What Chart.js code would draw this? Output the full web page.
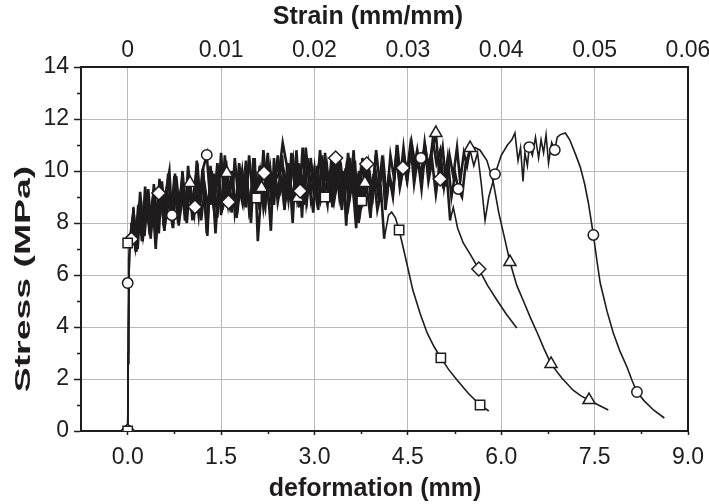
<!DOCTYPE html>
<html>
<head>
<meta charset="utf-8">
<script src="https://cdn.jsdelivr.net/npm/chart.js@4.4.0/dist/chart.umd.min.js"></script>
<style>
    html, body { margin: 0; padding: 0; background: #fff; }
    #wrap { width: 709px; height: 504px; }
</style>
</head>
<body>
<div id="wrap"><canvas id="chart"></canvas></div>
<script>
// axis ticks and titles
const deformationTicks = [0, 1.5, 3, 4.5, 6, 7.5, 9];
const deformationMinor = [0.75, 2.25, 3.75, 5.25, 6.75, 8.25];
const strainTicks = [0, 0.01, 0.02, 0.03, 0.04, 0.05, 0.06];
const stressTicks = [0, 2, 4, 6, 8, 10, 12, 14];
const stressMinor = [1, 3, 5, 7, 9, 11, 13];
const deformationTitle = 'deformation (mm)';
const strainTitle = 'Strain (mm/mm)';
const stressTitle = 'Stress (MPa)';

// square specimen
const squareDef = [
    0, 0.01, 0.02, 0.04, 0.08, 0.13, 0.19, 0.24, 0.3, 0.36,
    0.41, 0.47, 0.53, 0.58, 0.64, 0.7, 0.75, 0.81, 0.87, 0.92,
    0.98, 1.04, 1.1, 1.15, 1.21, 1.27, 1.32, 1.38, 1.44, 1.5,
    1.55, 1.61, 1.67, 1.72, 1.78, 1.84, 1.9, 1.95, 2.01, 2.07,
    2.12, 2.18, 2.24, 2.3, 2.35, 2.41, 2.47, 2.52, 2.58, 2.64,
    2.7, 2.75, 2.81, 2.87, 2.92, 2.98, 3.04, 3.1, 3.15, 3.21,
    3.27, 3.32, 3.38, 3.44, 3.5, 3.55, 3.61, 3.67, 3.72, 3.78,
    3.84, 3.9, 3.95, 4.01, 4.07, 4.12, 4.19, 4.24, 4.3, 4.36,
    4.45, 4.58, 4.7, 4.81, 4.92, 5.03, 5.16, 5.29, 5.47, 5.66, 5.8,
];
const squareStress = [
    0, 2.6, 5.9, 7.2, 8.1, 6.9, 8.8, 7.3, 9.0, 7.6,
    8.9, 7.8, 9.4, 7.9, 9.1, 8.2, 9.8, 8.0, 9.3, 8.4,
    9.9, 8.1, 9.6, 8.5, 10.1, 7.6, 9.4, 8.6, 10.3, 8.3,
    9.7, 8.7, 10.0, 8.4, 9.5, 8.8, 10.4, 8.5, 9.3, 8.9,
    10.2, 8.6, 9.8, 7.7, 10.5, 8.8, 9.6, 8.5, 10.3, 8.9,
    9.9, 8.6, 10.9, 8.8, 9.7, 8.4, 10.2, 8.9, 9.5, 8.7,
    10.4, 8.9, 9.8, 8.5, 10.1, 8.7, 9.6, 7.8, 10.0, 8.8,
    9.4, 8.2, 9.9, 8.5, 9.2, 7.4, 8.3, 8.42, 8.2, 7.73,
    6.8, 5.42, 4.5, 3.77, 3.25, 2.81, 2.35, 1.96, 1.45, 1.0, 0.77,
];
const squareNoiseEnd = 4.12;
const squareMarkDef = [0, 0, 2.07, 3.17, 3.76, 4.36, 5.03, 5.66];
const squareMarkStress = [0, 7.23, 8.96, 9.0, 8.85, 7.73, 2.81, 1.0];

// diamond specimen
const diamondDef = [
    0, 0.01, 0.03, 0.09, 0.14, 0.2, 0.25, 0.31, 0.37, 0.42,
    0.48, 0.54, 0.59, 0.65, 0.71, 0.76, 0.82, 0.88, 0.93, 0.99,
    1.05, 1.11, 1.16, 1.22, 1.28, 1.33, 1.39, 1.45, 1.51, 1.56,
    1.62, 1.68, 1.73, 1.79, 1.85, 1.91, 1.96, 2.02, 2.08, 2.13,
    2.19, 2.25, 2.31, 2.36, 2.42, 2.48, 2.53, 2.59, 2.65, 2.71,
    2.76, 2.82, 2.88, 2.94, 2.99, 3.05, 3.11, 3.17, 3.22, 3.28,
    3.34, 3.4, 3.45, 3.51, 3.57, 3.63, 3.68, 3.74, 3.8, 3.86,
    3.91, 3.97, 4.03, 4.09, 4.14, 4.2, 4.26, 4.32, 4.37, 4.43,
    4.49, 4.55, 4.6, 4.66, 4.72, 4.78, 4.83, 4.89, 4.95, 5.01,
    5.06, 5.12, 5.18, 5.23, 5.3, 5.39, 5.5, 5.64, 5.78, 5.93, 6.08, 6.25,
];
const diamondStress = [
    0, 3.5, 7.4, 8.6, 6.9, 9.2, 7.6, 8.7, 7.4, 9.5,
    8.0, 9.2, 7.7, 9.9, 8.3, 9.4, 7.9, 10.0, 8.6, 9.3,
    8.2, 10.4, 8.7, 9.6, 7.5, 10.2, 8.8, 9.9, 8.4, 10.6,
    8.9, 9.7, 8.5, 10.3, 9.0, 9.9, 8.3, 10.5, 8.9, 10.0,
    9.1, 10.7, 8.7, 9.8, 9.2, 10.6, 8.8, 10.1, 8.0, 10.8,
    9.0, 9.8, 8.9, 10.5, 9.3, 10.0, 8.8, 10.7, 9.1, 10.2,
    9.4, 10.6, 8.9, 10.1, 9.2, 10.8, 8.1, 9.9, 9.0, 10.5,
    8.6, 10.2, 9.1, 10.6, 8.5, 9.8, 9.0, 10.7, 9.4, 10.3,
    9.6, 10.9, 9.5, 10.5, 9.3, 10.8, 9.6, 10.4, 9.1, 10.2,
    9.5, 10.0, 8.1, 8.6, 7.8, 7.23, 6.8, 6.23, 5.6, 5.04, 4.5, 3.96,
];
const diamondNoiseEnd = 5.2;
const diamondMarkDef = [0, 0.06, 0.5, 1.08, 1.62, 2.19, 2.77, 3.34, 3.84, 4.42, 5.02, 5.64];
const diamondMarkStress = [0, 7.38, 9.15, 8.62, 8.81, 9.92, 9.23, 10.5, 10.27, 10.12, 9.69, 6.23];

// triangle specimen
const triangleDef = [
    0, 0.01, 0.03, 0.05, 0.1, 0.16, 0.21, 0.27, 0.33, 0.38,
    0.44, 0.5, 0.55, 0.61, 0.67, 0.73, 0.78, 0.84, 0.9, 0.95,
    1.0, 1.07, 1.12, 1.18, 1.24, 1.29, 1.35, 1.41, 1.47, 1.52,
    1.58, 1.64, 1.7, 1.75, 1.81, 1.87, 1.92, 1.98, 2.04, 2.09,
    2.15, 2.21, 2.26, 2.32, 2.38, 2.43, 2.49, 2.55, 2.6, 2.66,
    2.72, 2.77, 2.83, 2.89, 2.94, 3.0, 3.06, 3.12, 3.17, 3.23,
    3.29, 3.34, 3.4, 3.46, 3.51, 3.57, 3.63, 3.69, 3.74, 3.8,
    3.86, 3.91, 3.97, 4.03, 4.09, 4.14, 4.2, 4.26, 4.31, 4.37,
    4.43, 4.48, 4.54, 4.6, 4.65, 4.71, 4.77, 4.82, 4.88, 4.95,
    5.0, 5.06, 5.12, 5.17, 5.23, 5.29, 5.34, 5.4, 5.45, 5.5,
    5.58, 5.66, 5.77, 5.87, 5.96, 6.06, 6.14, 6.25, 6.35, 6.47,
    6.58, 6.69, 6.8, 6.97, 7.15, 7.28, 7.41, 7.56, 7.72,
];
const triangleStress = [
    0, 4.0, 6.9, 7.35, 8.3, 7.0, 8.9, 7.5, 9.3, 7.8,
    8.8, 7.6, 9.6, 8.1, 9.0, 7.8, 9.8, 8.3, 9.2, 8.0,
    9.54, 8.4, 10.3, 8.1, 9.4, 8.6, 10.0, 7.6, 9.7, 8.5,
    10.4, 8.7, 9.3, 8.2, 10.1, 8.8, 9.6, 8.0, 10.5, 7.3,
    9.35, 8.6, 10.2, 8.9, 9.7, 9.9, 11.08, 10.3, 9.2, 10.4,
    8.96, 9.9, 8.7, 10.5, 9.0, 10.1, 8.5, 10.6, 9.2, 9.8,
    8.6, 10.4, 9.0, 10.0, 7.9, 10.5, 9.1, 9.7, 8.5, 9.54,
    10.3, 8.8, 10.1, 9.0, 10.4, 8.7, 9.9, 9.2, 10.6, 9.5,
    10.9, 9.8, 11.0, 10.1, 10.8, 9.7, 11.1, 10.2, 10.7, 11.46,
    10.0, 10.9, 9.4, 10.6, 9.8, 10.9, 9.6, 10.7, 10.2, 10.88,
    10.9, 10.8, 10.4, 9.6, 8.4, 7.35, 6.5, 5.6, 5.04, 4.35,
    3.77, 3.15, 2.58, 2.05, 1.58, 1.35, 1.19, 1.0, 0.81,
];
const triangleNoiseEnd = 5.5;
const triangleMarkDef = [0, 0.05, 1.0, 1.59, 2.15, 2.73, 3.81, 4.95, 5.5, 6.14, 6.8, 7.41];
const triangleMarkStress = [0, 7.35, 9.54, 9.92, 9.35, 8.96, 9.54, 11.46, 10.88, 6.5, 2.58, 1.19];

// circle specimen
const circleDef = [
    0, 0.005, 0.01, 0.02, 0.06, 0.12, 0.17, 0.23, 0.28, 0.34,
    0.4, 0.45, 0.51, 0.57, 0.62, 0.67, 0.71, 0.76, 0.81, 0.87,
    0.92, 0.97, 1.03, 1.08, 1.14, 1.2, 1.27, 1.33, 1.38, 1.44,
    1.5, 1.55, 1.61, 1.67, 1.72, 1.78, 1.84, 1.9, 1.95, 2.01,
    2.07, 2.12, 2.18, 2.24, 2.29, 2.35, 2.41, 2.46, 2.52, 2.58,
    2.63, 2.69, 2.75, 2.8, 2.86, 2.92, 2.97, 3.03, 3.09, 3.14,
    3.2, 3.26, 3.31, 3.37, 3.43, 3.48, 3.54, 3.6, 3.65, 3.71,
    3.77, 3.82, 3.88, 3.94, 3.99, 4.05, 4.11, 4.16, 4.22, 4.28,
    4.33, 4.39, 4.45, 4.5, 4.56, 4.62, 4.71, 4.78, 4.84, 4.9,
    4.96, 5.02, 5.08, 5.14, 5.2, 5.26, 5.31, 5.37, 5.43, 5.5,
    5.56, 5.62, 5.68, 5.74, 5.8, 5.9, 6.0, 6.1, 6.17, 6.22,
    6.27, 6.31, 6.35, 6.38, 6.42, 6.45, 6.5, 6.55, 6.6, 6.64,
    6.68, 6.72, 6.76, 6.81, 6.86, 6.9, 6.95, 7.03, 7.1, 7.2,
    7.27, 7.34, 7.4, 7.48, 7.54, 7.59, 7.7, 7.8, 7.91, 8.02,
    8.1, 8.18, 8.3, 8.45, 8.62,
];
const circleStress = [
    0, 3.0, 5.69, 6.6, 8.0, 7.1, 8.7, 7.3, 9.4, 7.9,
    8.9, 7.0, 9.7, 8.2, 9.3, 10.0, 8.3, 9.9, 8.5, 9.6,
    8.1, 10.2, 8.6, 9.5, 8.3, 10.0, 10.62, 8.7, 9.9, 8.2,
    10.7, 8.9, 9.8, 8.4, 10.5, 8.8, 10.0, 8.6, 10.6, 9.0,
    9.7, 8.5, 10.8, 9.1, 10.1, 8.7, 10.6, 9.3, 9.9, 8.9,
    10.7, 9.2, 10.3, 8.2, 10.9, 9.4, 10.0, 9.0, 10.8, 9.3,
    10.2, 8.8, 10.6, 9.5, 10.1, 8.9, 10.7, 9.2, 10.4, 8.0,
    10.5, 9.3, 10.0, 9.1, 10.8, 9.5, 10.3, 8.9, 10.6, 9.7,
    11.0, 9.6, 10.4, 9.9, 11.1, 10.2, 10.5, 10.9, 10.0, 11.2,
    10.3, 10.8, 9.4, 10.5, 9.0, 9.9, 9.31, 9.0, 10.3, 10.8,
    10.2, 10.7, 9.5, 8.1, 9.0, 9.88, 10.6, 11.0, 11.2, 11.46,
    10.4, 10.9, 9.6, 10.7, 10.2, 10.92, 10.6, 11.3, 10.5, 11.2,
    10.7, 11.4, 10.3, 11.1, 10.81, 11.3, 11.4, 11.46, 11.2, 10.6,
    10.15, 9.5, 8.77, 7.54, 6.5, 5.69, 4.6, 3.77, 3.05, 2.46,
    1.95, 1.5, 1.15, 0.8, 0.5,
];
const circleNoiseEnd = 5.5;
const circleMarkDef = [0, 0, 0.71, 1.27, 4.71, 5.31, 5.9, 6.45, 6.86, 7.48, 8.18];
const circleMarkStress = [0, 5.69, 8.3, 10.62, 10.5, 9.31, 9.88, 10.92, 10.81, 7.54, 1.5];

const INK = '#1e1c1d';
const GRID = '#b9b9b9';
const FONT = "'Liberation Sans', Arial, sans-serif";

const toPoints = (xs, ys) => xs.map((x, i) => ({ x, y: ys[i] }));

// noisy plateau drawn heavier than the smooth tail
const curve = (xs, ys, noiseEnd) => ({
    data: toPoints(xs, ys),
    showLine: true,
    borderColor: INK,
    borderWidth: 1.6,
    borderJoinStyle: 'miter',
    pointRadius: 0,
    tension: 0,
    order: 2,
    segment: {
        borderWidth: (ctx) => (xs[ctx.p1DataIndex] <= noiseEnd && xs[ctx.p0DataIndex] > 0.03 ? 2.6 : 1.6),
    },
});

const markers = (xs, ys, style, radius) => ({
    data: toPoints(xs, ys),
    showLine: false,
    pointStyle: style,
    pointRadius: radius,
    pointBackgroundColor: '#ffffff',
    pointBorderColor: INK,
    pointBorderWidth: 1.5,
    order: 1,
});

const drawTitle = (ctx, text, x, y, rotate, stretch) => {
    ctx.save();
    ctx.translate(x, y);
    if (rotate) ctx.rotate(-Math.PI / 2);
    ctx.scale(stretch, 1);
    ctx.fillText(text, 0, 0);
    ctx.restore();
};

// minor ticks on the left and bottom axes, and the three axis titles
const extras = {
    id: 'extras',
    afterDraw(chart) {
        const { ctx, scales } = chart;
        const x = scales.x;
        const y = scales.y;
        ctx.save();
        ctx.strokeStyle = INK;
        ctx.lineWidth = 1.5;
        ctx.beginPath();
        deformationMinor.forEach((v) => {
            const px = Math.round(x.getPixelForValue(v)) + 0.5;
            ctx.moveTo(px, x.top);
            ctx.lineTo(px, x.top + 3);
        });
        stressMinor.forEach((v) => {
            const py = Math.round(y.getPixelForValue(v)) + 0.5;
            ctx.moveTo(y.right, py);
            ctx.lineTo(y.right - 4, py);
        });
        ctx.stroke();

        ctx.fillStyle = INK;
        ctx.textAlign = 'center';
        ctx.textBaseline = 'middle';
        ctx.font = `bold 25px ${FONT}`;
        drawTitle(ctx, strainTitle, 368, 17, false, 1);
        drawTitle(ctx, deformationTitle, 375, 489, false, 1);
        ctx.font = `bold 22px ${FONT}`;
        drawTitle(ctx, stressTitle, 24, 279, true, 1.7);
        ctx.restore();
    },
};

const setTicks = (values) => (scale) => {
    scale.ticks = values.map((value) => ({ value }));
};

const noSidePadding = (size) => (s) => {
    s.height = size;
    s.paddingLeft = 0;
    s.paddingRight = 0;
};

new Chart(document.getElementById('chart'), {
    type: 'scatter',
    data: {
        datasets: [
            curve(squareDef, squareStress, squareNoiseEnd),
            curve(diamondDef, diamondStress, diamondNoiseEnd),
            curve(triangleDef, triangleStress, triangleNoiseEnd),
            curve(circleDef, circleStress, circleNoiseEnd),
            markers(squareMarkDef, squareMarkStress, 'rect', 6.6),
            markers(diamondMarkDef, diamondMarkStress, 'rectRot', 7),
            markers(triangleMarkDef, triangleMarkStress, 'triangle', 7),
            markers(circleMarkDef, circleMarkStress, 'circle', 5.2),
        ],
    },
    options: {
        responsive: true,
        maintainAspectRatio: false,
        animation: false,
        layout: { padding: 0 },
        plugins: { legend: { display: false }, tooltip: { enabled: false } },
        scales: {
            x: {
                type: 'linear',
                position: 'bottom',
                min: -0.75,
                max: 9,
                afterBuildTicks: setTicks(deformationTicks),
                afterFit: noSidePadding(73),
                ticks: {
                    color: INK,
                    font: { family: FONT, size: 23 },
                    padding: 9,
                    maxRotation: 0,
                    callback: (v) => Number(v).toFixed(1),
                },
                grid: { color: GRID, lineWidth: 1, tickLength: 4, tickColor: INK, tickWidth: 1.5 },
                border: { color: INK, width: 2 },
                title: { display: false },
            },
            x2: {
                type: 'linear',
                position: 'top',
                min: -0.005,
                max: 0.06,
                afterBuildTicks: setTicks(strainTicks),
                afterFit: noSidePadding(67),
                ticks: {
                    color: INK,
                    font: { family: FONT, size: 23 },
                    padding: 3,
                    maxRotation: 0,
                    callback: (v) => (v === 0 ? '0' : Number(v).toFixed(2)),
                },
                grid: { drawOnChartArea: false, drawTicks: false },
                border: { color: INK, width: 2 },
                title: { display: false },
            },
            y: {
                type: 'linear',
                position: 'left',
                min: 0,
                max: 14,
                afterBuildTicks: setTicks(stressTicks),
                afterFit: (s) => { s.width = 81; },
                ticks: {
                    color: INK,
                    font: { family: FONT, size: 23 },
                    padding: 5,
                    callback: (v) => String(v),
                },
                grid: { color: GRID, lineWidth: 1, tickLength: 7, tickColor: INK, tickWidth: 1.5 },
                border: { color: INK, width: 2 },
                title: { display: false },
            },
            y2: {
                type: 'linear',
                position: 'right',
                min: 0,
                max: 14,
                afterFit: (s) => { s.width = 21; },
                ticks: { display: false },
                grid: { drawOnChartArea: false, drawTicks: false },
                border: { color: INK, width: 2 },
            },
        },
    },
    plugins: [extras],
});
</script>
</body>
</html>
